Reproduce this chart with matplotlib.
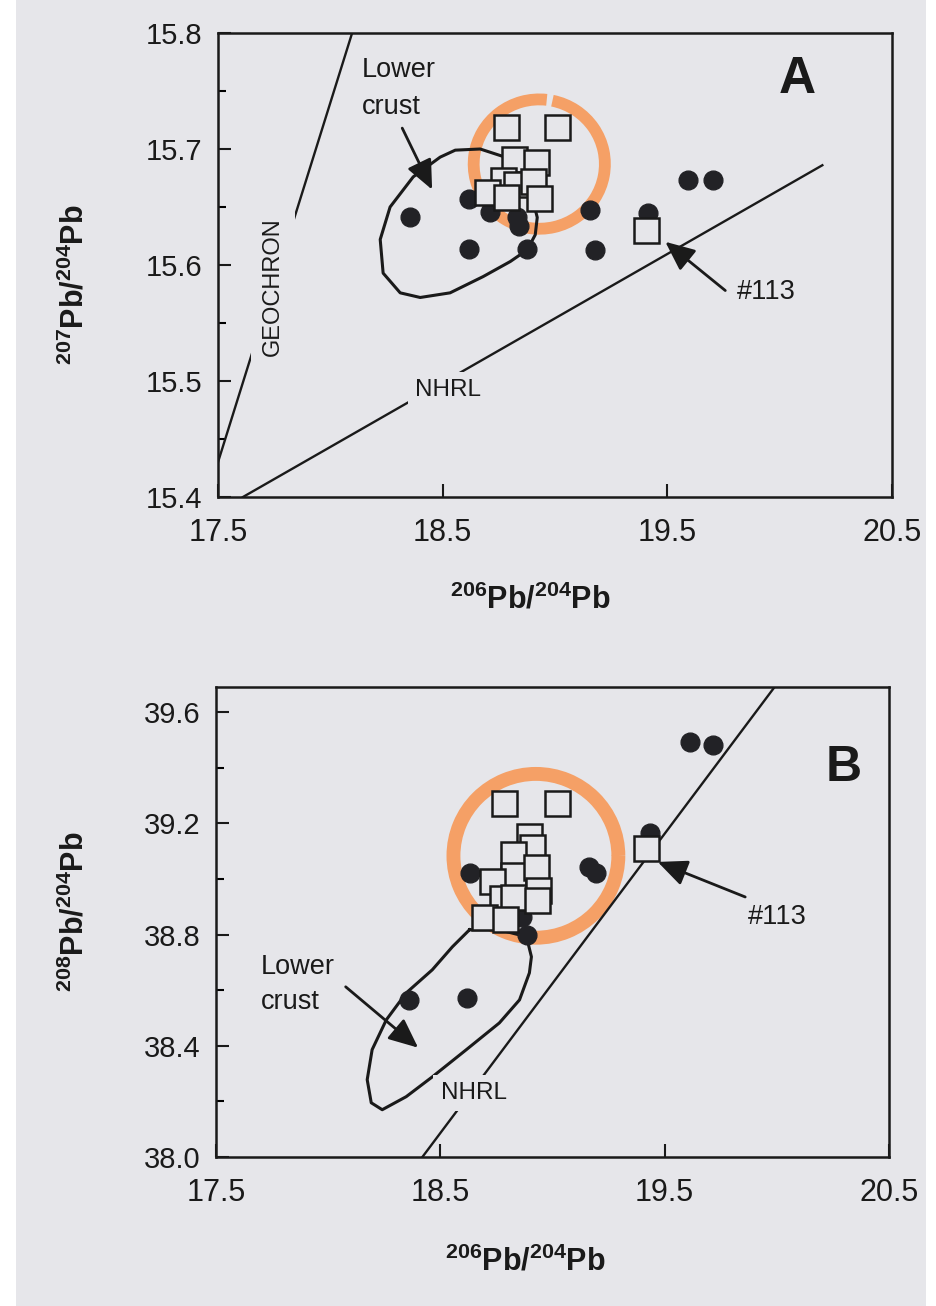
import matplotlib
matplotlib.use('Agg')
import matplotlib.pyplot as plt
from matplotlib.patches import Arc, Rectangle

plt.rcParams['font.family'] = ['Liberation Sans', 'DejaVu Sans']
plt.rcParams['mathtext.fontset'] = 'custom'
plt.rcParams['mathtext.rm'] = 'Liberation Sans'
plt.rcParams['mathtext.bf'] = 'Liberation Sans:bold'

# ---------------- data ----------------
x_ticks = [17.5, 18.5, 19.5, 20.5]
x_tick_labels = ['17.5', '18.5', '19.5', '20.5']
a_yticks = [15.4, 15.5, 15.6, 15.7, 15.8]
a_yminor = [15.45, 15.55, 15.65, 15.75]
b_yticks = [38.0, 38.4, 38.8, 39.2, 39.6]
b_yminor = [38.2, 38.6, 39.0, 39.4]

# Panel A: 207Pb/204Pb vs 206Pb/204Pb
a_circle_x = [18.355, 18.615, 18.712, 18.838, 18.832, 18.615, 18.875, 19.157, 19.179, 19.594, 19.705, 19.415]
a_circle_y = [15.641, 15.657, 15.646, 15.634, 15.641, 15.614, 15.614, 15.647, 15.613, 15.673, 15.673, 15.645]
a_square_x = [18.782, 19.010, 18.818, 18.916, 18.770, 18.827, 18.903, 18.698, 18.783, 18.930, 19.406]
a_square_y = [15.719, 15.719, 15.691, 15.689, 15.673, 15.670, 15.672, 15.663, 15.659, 15.658, 15.630]
a_crust_x = [18.778, 18.667, 18.556, 18.489, 18.369, 18.266, 18.222, 18.235, 18.311, 18.400,
             18.533, 18.680, 18.801, 18.876, 18.912, 18.921, 18.890, 18.845, 18.778]
a_crust_y = [15.693, 15.700, 15.699, 15.693, 15.676, 15.650, 15.622, 15.593, 15.576, 15.572,
             15.576, 15.590, 15.603, 15.613, 15.626, 15.641, 15.665, 15.682, 15.693]
a_geochron_x = [18.097, 17.50]
a_geochron_y = [15.80, 15.43]
a_nhrl_x = [17.611, 20.19]
a_nhrl_y = [15.40, 15.686]

# Panel B: 208Pb/204Pb vs 206Pb/204Pb
b_circle_x = [18.361, 18.621, 18.631, 18.863, 18.886, 19.162, 19.192, 19.612, 19.715, 19.433]
b_circle_y = [38.565, 38.572, 39.020, 38.864, 38.799, 39.044, 39.020, 39.492, 39.481, 39.165]
b_square_x = [18.786, 19.020, 18.896, 18.908, 18.822, 18.826, 18.729, 18.774, 18.826,
              18.696, 18.787, 18.926, 18.934, 18.930, 19.415]
b_square_y = [39.274, 39.274, 39.154, 39.115, 39.090, 39.014, 38.994, 38.932, 38.936,
              38.864, 38.856, 39.043, 38.960, 38.925, 39.110]
b_crust_x = [18.63, 18.763, 18.884, 18.906, 18.897, 18.853, 18.763, 18.616, 18.464, 18.348,
             18.241, 18.192, 18.174, 18.196, 18.259, 18.348, 18.464, 18.554, 18.63]
b_crust_y = [38.817, 38.817, 38.792, 38.72, 38.662, 38.565, 38.482, 38.386, 38.288, 38.217,
             38.17, 38.195, 38.278, 38.386, 38.493, 38.59, 38.673, 38.756, 38.817]
b_nhrl_x = [18.42, 19.99]
b_nhrl_y = [38.0, 39.69]

# ---------------- styling ----------------
W, H = 937, 1306
BG = '#E6E6EA'
ORANGE = '#F5A066'
INK = '#1a1a1a'

fig = plt.figure(figsize=(W / 100, H / 100), dpi=100, facecolor='white')
fig.patches.append(Rectangle((16 / W, 0), (926 - 16) / W, 1, transform=fig.transFigure,
                             facecolor=BG, edgecolor='none', zorder=-5))


def px_axes(l, t, r, b):
    return [l / W, 1 - b / H, (r - l) / W, (b - t) / H]


axA = fig.add_axes(px_axes(218, 33, 892, 497))
axB = fig.add_axes(px_axes(216, 687, 889, 1157))


def style(ax, ylim, yticks, yminor):
    ax.set_facecolor(BG)
    ax.set_xlim(17.5, 20.5)
    ax.set_ylim(*ylim)
    ax.set_xticks(x_ticks)
    ax.set_xticklabels(x_tick_labels)
    ax.set_yticks(yticks)
    ax.set_yticklabels([f'{v:.1f}' for v in yticks])
    ax.set_yticks(yminor, minor=True)
    for s in ax.spines.values():
        s.set_linewidth(1.8)
        s.set_color(INK)
    ax.tick_params(axis='both', which='major', direction='in', length=9.5, width=1.5,
                   labelsize=21, colors=INK)
    ax.tick_params(axis='x', which='major', pad=15, labelsize=22)
    ax.tick_params(axis='y', which='major', pad=11)
    ax.tick_params(axis='y', which='minor', direction='in', length=6, width=1.5)


style(axA, (15.4, 15.8), a_yticks, a_yminor)
style(axB, (38.0, 39.69), b_yticks, b_yminor)

label_kw = dict(fontsize=22, color=INK, ha='center', va='center')
axA.text(0.463, -0.222, r'$\mathbf{^{206}Pb/^{204}Pb}$', transform=axA.transAxes, **label_kw)
axA.text(-0.212, 0.457, r'$\mathbf{^{207}Pb/^{204}Pb}$', transform=axA.transAxes, rotation=90, **label_kw)
axB.text(0.459, -0.223, r'$\mathbf{^{206}Pb/^{204}Pb}$', transform=axB.transAxes, **label_kw)
axB.text(-0.210, 0.521, r'$\mathbf{^{208}Pb/^{204}Pb}$', transform=axB.transAxes, rotation=90, **label_kw)

txt_kw = dict(color=INK, fontsize=19.5)
arrow = dict(arrowstyle='-|>,head_length=0.9,head_width=0.4', color=INK, lw=2,
             shrinkA=0, shrinkB=0, mutation_scale=20)
gapbox = dict(facecolor=BG, edgecolor='none', pad=5)

# ---------- Panel A ----------
axA.add_patch(Arc((18.930, 15.687), 0.584, 0.1115, theta1=59, theta2=403,
                  color=ORANGE, lw=8.5, zorder=2))
axA.plot(a_crust_x, a_crust_y, color=INK, lw=2.2, zorder=3)
axA.plot(a_geochron_x, a_geochron_y, color=INK, lw=1.7, zorder=3)
axA.plot(a_nhrl_x, a_nhrl_y, color=INK, lw=1.7, zorder=3)
axA.plot(a_circle_x, a_circle_y, 'o', ms=13.5, color='#222226', mec='#222226', zorder=4)
axA.plot(a_square_x, a_square_y, 's', ms=18, mfc=BG, mec=INK, mew=1.8, zorder=5)
axA.text(17.745, 15.581, 'GEOCHRON', rotation=90, ha='center', va='center', fontsize=17,
         color=INK, bbox=dict(facecolor=BG, edgecolor='none', pad=8), zorder=6)
axA.text(18.525, 15.492, 'NHRL', ha='center', va='center', fontsize=17.5, color=INK,
         bbox=gapbox, zorder=6)
axA.text(18.141, 15.768, 'Lower', ha='left', va='center', **txt_kw)
axA.text(18.141, 15.736, 'crust', ha='left', va='center', **txt_kw)
axA.annotate('', xy=(18.453, 15.665), xytext=(18.32, 15.718), arrowprops=arrow, zorder=6)
axA.annotate('', xy=(19.491, 15.620), xytext=(19.758, 15.578), arrowprops=arrow, zorder=6)
axA.text(19.81, 15.577, '#113', ha='left', va='center', **txt_kw)
axA.text(20.079, 15.760, 'A', ha='center', va='center', fontsize=37, fontweight='bold',
         color=INK)

# ---------- Panel B ----------
axB.add_patch(Arc((18.926, 39.083), 0.735, 0.589, theta1=0, theta2=360,
                  color=ORANGE, lw=10, zorder=2))
axB.plot(b_crust_x, b_crust_y, color=INK, lw=2.2, zorder=3)
axB.plot(b_nhrl_x, b_nhrl_y, color=INK, lw=1.7, zorder=3)
axB.plot(b_circle_x, b_circle_y, 'o', ms=13.5, color='#222226', mec='#222226', zorder=4)
axB.plot(b_square_x, b_square_y, 's', ms=18, mfc=BG, mec=INK, mew=1.8, zorder=5)
axB.text(18.648, 38.231, 'NHRL', ha='center', va='center', fontsize=17.5, color=INK,
         bbox=gapbox, zorder=6)
axB.text(17.70, 38.684, 'Lower', ha='left', va='center', **txt_kw)
axB.text(17.70, 38.558, 'crust', ha='left', va='center', **txt_kw)
axB.annotate('', xy=(18.401, 38.393), xytext=(18.078, 38.612), arrowprops=arrow, zorder=6)
axB.annotate('', xy=(19.469, 39.061), xytext=(19.859, 38.935), arrowprops=arrow, zorder=6)
axB.text(19.872, 38.863, '#113', ha='left', va='center', **txt_kw)
axB.text(20.298, 39.399, 'B', ha='center', va='center', fontsize=36, fontweight='bold',
         color=INK)

fig.savefig('out.png', dpi=100, facecolor='white')
